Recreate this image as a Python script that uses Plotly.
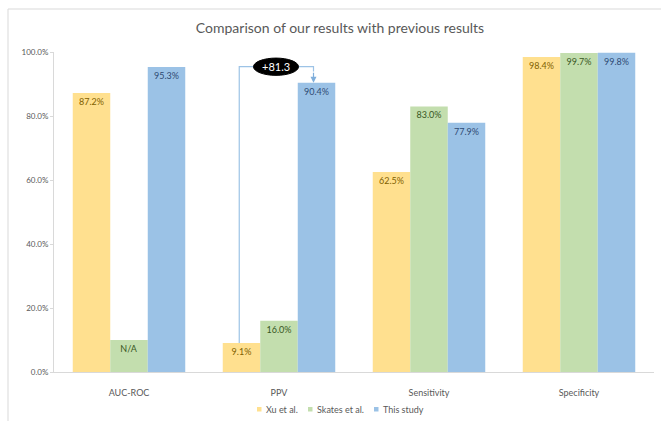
import plotly.graph_objects as go

categories = ["AUC-ROC", "PPV", "Sensitivity", "Specificity"]
xu_vals = [87.2, 9.1, 62.5, 98.4]
xu_text = ["87.2%", "9.1%", "62.5%", "98.4%"]
skates_vals = [10.0, 16.0, 83.0, 99.7]
skates_text = ["N/A", "16.0%", "83.0%", "99.7%"]
this_vals = [95.3, 90.4, 77.9, 99.8]
this_text = ["95.3%", "90.4%", "77.9%", "99.8%"]
y_ticks = [0, 20, 40, 60, 80, 100]
diff_label = "+81.3"

W, H = 661, 421
L, R, T, B = 54, 7, 52, 49
FONT = "Lato, 'Open Sans', sans-serif"

pw, ph = W - L - R, H - T - B
def px(x): return (x - L) / pw
def py(y): return (H - B - y) / ph

fig = go.Figure()
series = [
    ("Xu et al.", xu_vals, xu_text, "#FFE08F", "#7F6000"),
    ("Skates et al.", skates_vals, skates_text, "#C3DEAE", "#385723"),
    ("This study", this_vals, this_text, "#9BC2E6", "#2F4A73"),
]
for name, vals, txt, col, tcol in series:
    fig.add_trace(go.Bar(
        name=name, x=categories, y=vals, text=txt,
        textposition="inside", insidetextanchor="end", textangle=0,
        insidetextfont=dict(size=9, color=tcol, family=FONT),
        marker=dict(color=col, line=dict(width=0)),
        showlegend=False,
    ))

# compact legend drawn below the plot (small squares + labels)
legend_x = [257, 308, 374]
for (name, vals, txt, col, tcol), lx in zip(series, legend_x):
    fig.add_shape(type="rect", xref="paper", yref="paper",
                  x0=px(lx), x1=px(lx + 4.5), y0=py(411.5), y1=py(407),
                  fillcolor=col, line=dict(width=0))
    fig.add_annotation(xref="paper", yref="paper", x=px(lx + 6.5), y=py(409),
                       xanchor="left", yanchor="middle", text=name, showarrow=False,
                       font=dict(size=9, color="#595959", family=FONT))

# bracket from PPV (Xu) to PPV (This study)
top_y = 95.4
fig.add_shape(type="path", xref="x", yref="y",
              path=f"M 0.735,{xu_vals[1]} L 0.735,{top_y} L 1.23,{top_y} L 1.23,{this_vals[1]+3.5}",
              line=dict(color="#9DC3E6", width=1.2))
fig.add_annotation(x=1.23, y=this_vals[1], ax=1.23, ay=this_vals[1] + 3.6,
                   xref="x", yref="y", axref="x", ayref="y", text="",
                   showarrow=True, arrowhead=2, arrowsize=1, arrowwidth=1.2,
                   arrowcolor="#7FAEDB")
fig.add_shape(type="circle", xref="x", yref="y",
              x0=0.83, x1=1.13, y0=top_y - 2.7, y1=top_y + 2.7,
              fillcolor="black", line=dict(color="black", width=1))
fig.add_annotation(x=0.98, y=top_y, xref="x", yref="y", text=diff_label,
                   showarrow=False, font=dict(color="white", size=11, family=FONT))

# outer frame
fig.add_shape(type="rect", xref="paper", yref="paper",
              x0=px(8), x1=px(664), y0=py(430), y1=py(9),
              line=dict(color="#D9D9D9", width=1), fillcolor="rgba(0,0,0,0)", layer="below")

fig.update_layout(
    width=W, height=H,
    margin=dict(l=L, r=R, t=T, b=B, autoexpand=False),
    paper_bgcolor="white", plot_bgcolor="white",
    barmode="group", bargap=0.25, bargroupgap=0,
    title=dict(text="Comparison of our results with previous results",
               x=340 / W, xref="container", xanchor="center",
               y=1 - 28 / H, yref="container", yanchor="middle",
               font=dict(size=14, color="#595959", family=FONT)),
    font=dict(family=FONT, color="#595959"),
    showlegend=False,
)
fig.update_xaxes(showline=True, linecolor="#D9D9D9", linewidth=1, ticks="",
                 ticklabelstandoff=12, automargin=False,
                 tickfont=dict(size=9, color="#595959"), showgrid=False)
fig.update_yaxes(range=[0, 100], tickvals=y_ticks,
                 ticktext=[f"{v:.1f}%" for v in y_ticks],
                 showline=True, linecolor="#D9D9D9", linewidth=1,
                 ticks="outside", ticklen=3, tickcolor="#D9D9D9", automargin=False,
                 tickfont=dict(size=8, color="#595959"), showgrid=False, zeroline=False)

fig.write_html("out.html")
